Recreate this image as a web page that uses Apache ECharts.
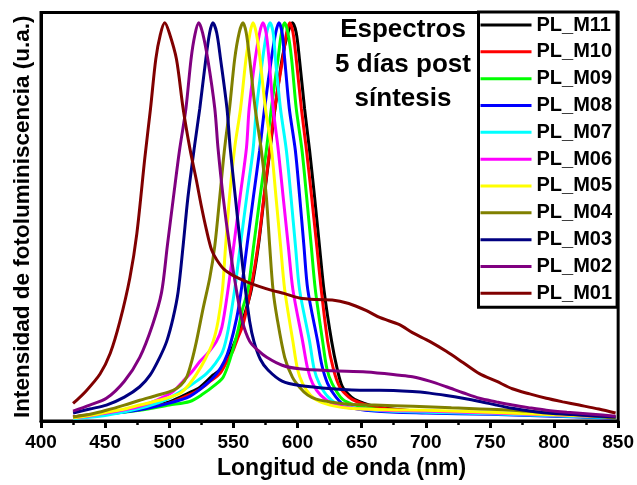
<!DOCTYPE html>
<html>
<head>
<meta charset="utf-8">
<script src="https://cdn.jsdelivr.net/npm/echarts@6/dist/echarts.min.js"></script>
<style>html,body{margin:0;padding:0;background:#fff}#c{width:637px;height:485px}</style>
</head>
<body>
<div id="c"></div>
<script>
// ---- data: [wavelength (nm), normalized PL intensity] ----
const seriesNames = ['PL_M11','PL_M10','PL_M09','PL_M08','PL_M07','PL_M06','PL_M05','PL_M04','PL_M03','PL_M02','PL_M01'];
const xTicks = [400,450,500,550,600,650,700,750,800,850];

const m11 = [[425,0.01],[450,0.02],[477,0.032],[500,0.048],[515,0.07],[524,0.085],[534,0.115],[540,0.13],[546,0.16],[550,0.19],[555,0.23],[559,0.27],[564,0.33],[569.5,0.44],[574,0.563],[578.5,0.68],[582.5,0.785],[588,0.909],[592.5,0.975],[596,1.0],[599,0.975],[601.5,0.909],[605.5,0.785],[609.4,0.68],[613.3,0.563],[617.1,0.44],[620.6,0.33],[626.6,0.2],[631,0.13],[635,0.086],[642,0.06],[648,0.049],[662,0.035],[685,0.027],[720,0.022],[760,0.018],[800,0.014],[848,0.008]];
const m10 = [[425,0.01],[450,0.02],[477,0.03],[500,0.045],[515,0.065],[524,0.08],[532,0.1],[539.4,0.119],[545,0.15],[549.5,0.175],[553,0.205],[557.5,0.242],[563.5,0.33],[569.2,0.44],[573.8,0.563],[578.3,0.68],[582.3,0.785],[588.4,0.909],[591.5,0.975],[594,1.0],[596.5,0.975],[599,0.909],[603,0.785],[607,0.68],[611,0.563],[615,0.44],[618.5,0.33],[623.5,0.2],[628,0.13],[632.8,0.086],[640,0.06],[646,0.049],[660,0.035],[683,0.027],[720,0.022],[760,0.018],[800,0.014],[848,0.008]];
const m09 = [[425,0.008],[450,0.017],[477,0.027],[500,0.04],[516,0.049],[525,0.065],[537,0.094],[542,0.11],[547,0.151],[553.4,0.225],[557,0.28],[561.4,0.33],[565.8,0.44],[570.8,0.563],[575.7,0.68],[579.6,0.785],[584.8,0.909],[587.5,0.975],[590,1.0],[592.5,0.975],[595.4,0.909],[599,0.785],[603.5,0.68],[607.1,0.563],[610.7,0.44],[613.9,0.33],[619.6,0.2],[623,0.13],[627,0.094],[635,0.055],[645,0.04],[660,0.03],[690,0.025],[720,0.022],[760,0.018],[800,0.013],[848,0.008]];
const m08 = [[425,0.008],[450,0.017],[477,0.028],[500,0.045],[516,0.062],[528,0.09],[537,0.119],[543,0.15],[547,0.185],[552.6,0.259],[556.2,0.33],[560.6,0.44],[565.6,0.563],[570.5,0.68],[574.3,0.785],[579.6,0.909],[583,0.975],[585.5,1.0],[588,0.975],[590,0.909],[593.6,0.785],[598.3,0.68],[601.7,0.563],[605,0.44],[608,0.33],[615.7,0.2],[619,0.14],[623.5,0.094],[630,0.06],[638,0.037],[660,0.025],[700,0.02],[750,0.017],[800,0.012],[848,0.007]];
const m07 = [[425,0.006],[450,0.014],[477,0.032],[495,0.05],[510.6,0.077],[520,0.097],[529,0.119],[536,0.145],[541.7,0.175],[546,0.23],[551,0.33],[555.4,0.44],[560.4,0.563],[565.3,0.68],[568,0.785],[572.8,0.909],[576,0.975],[578.6,1.0],[581,0.975],[582.8,0.909],[586.7,0.785],[591.3,0.68],[594.9,0.563],[598.4,0.44],[601.6,0.33],[609.4,0.2],[613,0.13],[617,0.094],[624,0.06],[632.8,0.04],[650,0.03],[670,0.025],[700,0.022],[750,0.018],[800,0.013],[848,0.008]];
const m06 = [[425,0.008],[440,0.014],[451,0.02],[465,0.028],[477,0.037],[490,0.052],[503,0.074],[510.8,0.1],[518,0.125],[524,0.15],[530,0.17],[536.8,0.2],[541,0.235],[545.8,0.33],[550.3,0.44],[555.2,0.563],[560.2,0.686],[562.3,0.785],[567,0.909],[570.5,0.975],[573,1.0],[575.5,0.975],[577.8,0.909],[581,0.785],[584.8,0.686],[588.8,0.563],[592.8,0.44],[596.4,0.33],[604,0.2],[608,0.13],[611.8,0.094],[618,0.065],[627,0.044],[640,0.033],[667,0.027],[700,0.025],[750,0.02],[800,0.015],[848,0.01]];
const m05 = [[425,0.008],[440,0.015],[451,0.022],[465,0.03],[477,0.04],[492,0.052],[508,0.069],[515,0.09],[521.5,0.119],[528,0.155],[534.2,0.2],[538,0.25],[541.5,0.33],[543.5,0.42],[547,0.563],[551,0.686],[555.6,0.785],[559.8,0.909],[563,0.975],[565.3,1.0],[567.8,0.975],[570.8,0.909],[575,0.785],[579.6,0.686],[583.2,0.563],[586.8,0.44],[590,0.33],[596.4,0.2],[600,0.13],[604,0.094],[610,0.065],[617,0.049],[628,0.038],[640.6,0.032],[670,0.028],[700,0.027],[750,0.022],[800,0.016],[848,0.01]];
const m04 = [[425,0.01],[440,0.018],[451,0.027],[465,0.04],[477,0.052],[490,0.064],[503,0.077],[509,0.09],[513.7,0.111],[517.5,0.15],[521.2,0.2],[526.4,0.283],[531.6,0.36],[535.5,0.44],[539.4,0.563],[543,0.68],[547,0.785],[551,0.909],[554.5,0.975],[557.5,1.0],[560,0.975],[562.7,0.909],[567,0.785],[571.8,0.68],[575.7,0.563],[578.3,0.44],[580.9,0.33],[584,0.26],[590,0.16],[596,0.11],[601.6,0.085],[608,0.065],[614.6,0.055],[627,0.047],[640,0.042],[660,0.04],[690,0.037],[720,0.033],[760,0.028],[800,0.02],[825,0.014],[848,0.007]];
const m03 = [[425,0.02],[438,0.03],[451,0.04],[465,0.06],[477,0.086],[485,0.115],[492.6,0.16],[498,0.2],[503,0.259],[506.9,0.324],[510.8,0.44],[514.5,0.56],[519.5,0.686],[523.8,0.785],[528.5,0.909],[531.5,0.975],[534,1.0],[537,0.975],[540,0.909],[545,0.785],[547.5,0.686],[551.5,0.563],[555.5,0.44],[559,0.34],[562.7,0.25],[566,0.2],[571,0.155],[577,0.128],[588,0.1],[601.6,0.089],[627,0.081],[653.8,0.077],[664,0.077],[689.6,0.074],[703,0.07],[716,0.064],[729,0.057],[742,0.049],[755,0.04],[767.5,0.032],[781,0.025],[794,0.02],[820,0.015],[848,0.01]];
const m02 = [[425,0.025],[438,0.04],[451,0.057],[465,0.1],[477,0.16],[487,0.242],[494,0.323],[498.5,0.44],[503.3,0.563],[508,0.68],[513,0.785],[517,0.909],[520,0.97],[523,1.0],[526,0.975],[530,0.909],[535.5,0.785],[538,0.686],[542,0.563],[547,0.44],[552.6,0.324],[557,0.25],[562.7,0.2],[569,0.178],[576,0.16],[588,0.14],[601.6,0.131],[627,0.126],[653.8,0.123],[679.5,0.115],[689.6,0.111],[703,0.1],[716,0.086],[729,0.071],[741.8,0.057],[755,0.048],[767.5,0.04],[781,0.033],[794,0.027],[810,0.022],[830,0.017],[848,0.012]];
const m01 = [[425,0.044],[435,0.075],[446,0.118],[454,0.17],[461.5,0.25],[469.3,0.36],[474.7,0.47],[481,0.662],[485.4,0.785],[489.5,0.909],[493,0.97],[496.5,1.0],[500,0.975],[505.6,0.909],[510.8,0.785],[516,0.686],[521.2,0.604],[525,0.54],[529,0.48],[533,0.43],[537,0.405],[543,0.38],[550,0.365],[560,0.35],[570,0.338],[580,0.328],[590,0.32],[601.6,0.309],[615,0.305],[627,0.304],[640,0.295],[653.8,0.277],[664,0.26],[679.5,0.242],[689.6,0.222],[703,0.2],[716,0.175],[729,0.147],[741.8,0.119],[755,0.1],[767.5,0.081],[781,0.068],[794,0.057],[807,0.048],[819.6,0.04],[835,0.03],[848,0.02]];

const seriesData = [m11, m10, m09, m08, m07, m06, m05, m04, m03, m02, m01];
const seriesColors = ['#000000','#ff0000','#00ff00','#0000ff','#00ffff','#ff00ff','#ffff00','#808000','#000080','#800080','#800000'];
const titleLines = ['Espectros', '5 días post', 'síntesis'];

const FF = 'Liberation Sans, Arial, Helvetica, sans-serif';
const chart = echarts.init(document.getElementById('c'), null, {renderer: 'canvas'});

const series = seriesNames.map((n, i) => ({
  name: n,
  type: 'line',
  data: seriesData[i],
  showSymbol: false,
  smooth: 0.3,
  color: seriesColors[i],
  lineStyle: {width: 3, color: seriesColors[i]},
  animation: false,
  z: 2
}));

const titleY = [30, 64.5, 98.5];
const graphics = titleLines.map((t, i) => ({
  type: 'text',
  x: 403, y: titleY[i],
  z: 10,
  style: {text: t, fontSize: 26, fontWeight: 'bold', fontFamily: FF, fill: '#000', align: 'center', verticalAlign: 'middle'}
}));

chart.setOption({
  backgroundColor: '#fff',
  animation: false,
  grid: {left: 41, right: 18.5, top: 12.5, bottom: 56.7, show: true, borderColor: '#000', borderWidth: 3, backgroundColor: 'transparent'},
  xAxis: {
    type: 'value', min: xTicks[0], max: xTicks[xTicks.length - 1], interval: 50,
    axisLine: {show: true, lineStyle: {color: '#000', width: 3}},
    axisTick: {show: true, inside: false, length: 7, lineStyle: {width: 3, color: '#000'}},
    minorTick: {show: true, splitNumber: 2, length: 4, lineStyle: {width: 2.5, color: '#000'}},
    splitLine: {show: false},
    axisLabel: {color: '#000', fontSize: 19, fontWeight: 'bold', fontFamily: FF, margin: 12},
    name: 'Longitud de onda (nm)', nameLocation: 'middle', nameGap: 36,
    nameTextStyle: {color: '#000', fontSize: 23, fontWeight: 'bold', fontFamily: FF, padding: [0, 0, 0, 24]}
  },
  yAxis: {
    type: 'value', min: 0, max: 1.026,
    axisLine: {show: true, lineStyle: {color: '#000', width: 3}},
    axisTick: {show: false}, axisLabel: {show: false}, splitLine: {show: false},
    name: 'Intensidad de fotoluminiscencia (u.a.)', nameLocation: 'middle', nameGap: 7,
    nameTextStyle: {color: '#000', fontSize: 22.5, fontWeight: 'bold', fontFamily: FF}
  },
  legend: {
    data: seriesNames, orient: 'vertical', left: 478.5, top: 12,
    icon: 'rect', itemWidth: 51, itemHeight: 3, itemGap: 6.83, itemTextGap: 5,
    padding: [3, 5, 4, 2],
    backgroundColor: '#fff', borderColor: '#000', borderWidth: 3,
    textStyle: {color: '#000', fontSize: 20, fontWeight: 'bold', fontFamily: FF, lineHeight: 20},
    selectedMode: false, z: 20
  },
  graphic: graphics,
  series: series
});
</script>
</body>
</html>
